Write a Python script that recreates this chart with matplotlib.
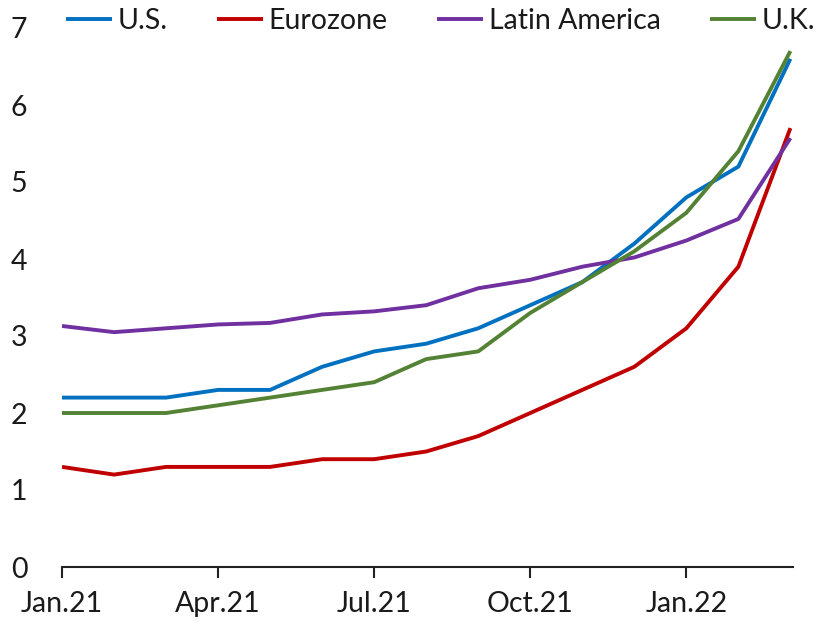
import matplotlib
matplotlib.use("Agg")
import matplotlib.pyplot as plt

months = ["Jan.21", "Feb.21", "Mar.21", "Apr.21", "May.21", "Jun.21", "Jul.21", "Aug.21",
          "Sep.21", "Oct.21", "Nov.21", "Dec.21", "Jan.22", "Feb.22", "Mar.22"]
us = [2.2, 2.2, 2.2, 2.3, 2.3, 2.6, 2.8, 2.9, 3.1, 3.4, 3.7, 4.2, 4.8, 5.2, 6.6]
eurozone = [1.3, 1.2, 1.3, 1.3, 1.3, 1.4, 1.4, 1.5, 1.7, 2.0, 2.3, 2.6, 3.1, 3.9, 5.7]
latam = [3.13, 3.05, 3.10, 3.15, 3.17, 3.28, 3.32, 3.40, 3.62, 3.73, 3.90, 4.02, 4.24, 4.52, 5.57]
uk = [2.0, 2.0, 2.0, 2.1, 2.2, 2.3, 2.4, 2.7, 2.8, 3.3, 3.7, 4.1, 4.6, 5.4, 6.7]
series_names = ["U.S.", "Eurozone", "Latin America", "U.K."]
tick_labels = ["Jan.21", "Apr.21", "Jul.21", "Oct.21", "Jan.22"]
y_ticks = [0, 1, 2, 3, 4, 5, 6, 7]

colors = ["#0070C0", "#C00000", "#7030A0", "#548235"]

plt.rcParams['font.family'] = ['Lato', 'DejaVu Sans']
FS = 20.5
TXT = "#1a1a1a"
fig = plt.figure(figsize=(8.16, 6.23), dpi=100)
ax = fig.add_axes([62/816, 1-567/623, (793-62)/816, (567-28)/623])

x = list(range(len(months)))
for vals, name, c in zip([us, eurozone, latam, uk], series_names, colors):
    ax.plot(x, vals, color=c, lw=2.8, label=name, solid_capstyle='butt')

ax.set_xlim(0, 14.05)
ax.set_ylim(0, 7)
ax.set_xticks([months.index(t) for t in tick_labels])
ax.set_xticklabels(tick_labels)
ax.set_yticks(y_ticks)
ax.set_yticklabels([str(v) for v in y_ticks])
for s in ["top", "right", "left"]:
    ax.spines[s].set_visible(False)
ax.spines["bottom"].set_linewidth(1.5)
ax.spines["bottom"].set_color("#222222")
ax.tick_params(axis='x', direction='out', length=8, width=1.5, color="#222222",
               labelsize=FS, pad=9, labelcolor=TXT)
ax.tick_params(axis='y', length=0, labelsize=FS, pad=25, labelcolor=TXT)

leg = fig.legend(loc='upper left', bbox_to_anchor=(66/816, 1.0 - 8/623), ncol=4, frameon=False,
           prop={'size': FS}, handlelength=1.6, handletextpad=0.2,
           columnspacing=1.75, borderaxespad=0.0, borderpad=0.0, labelcolor=TXT)

fig.savefig("out.png", dpi=100)
